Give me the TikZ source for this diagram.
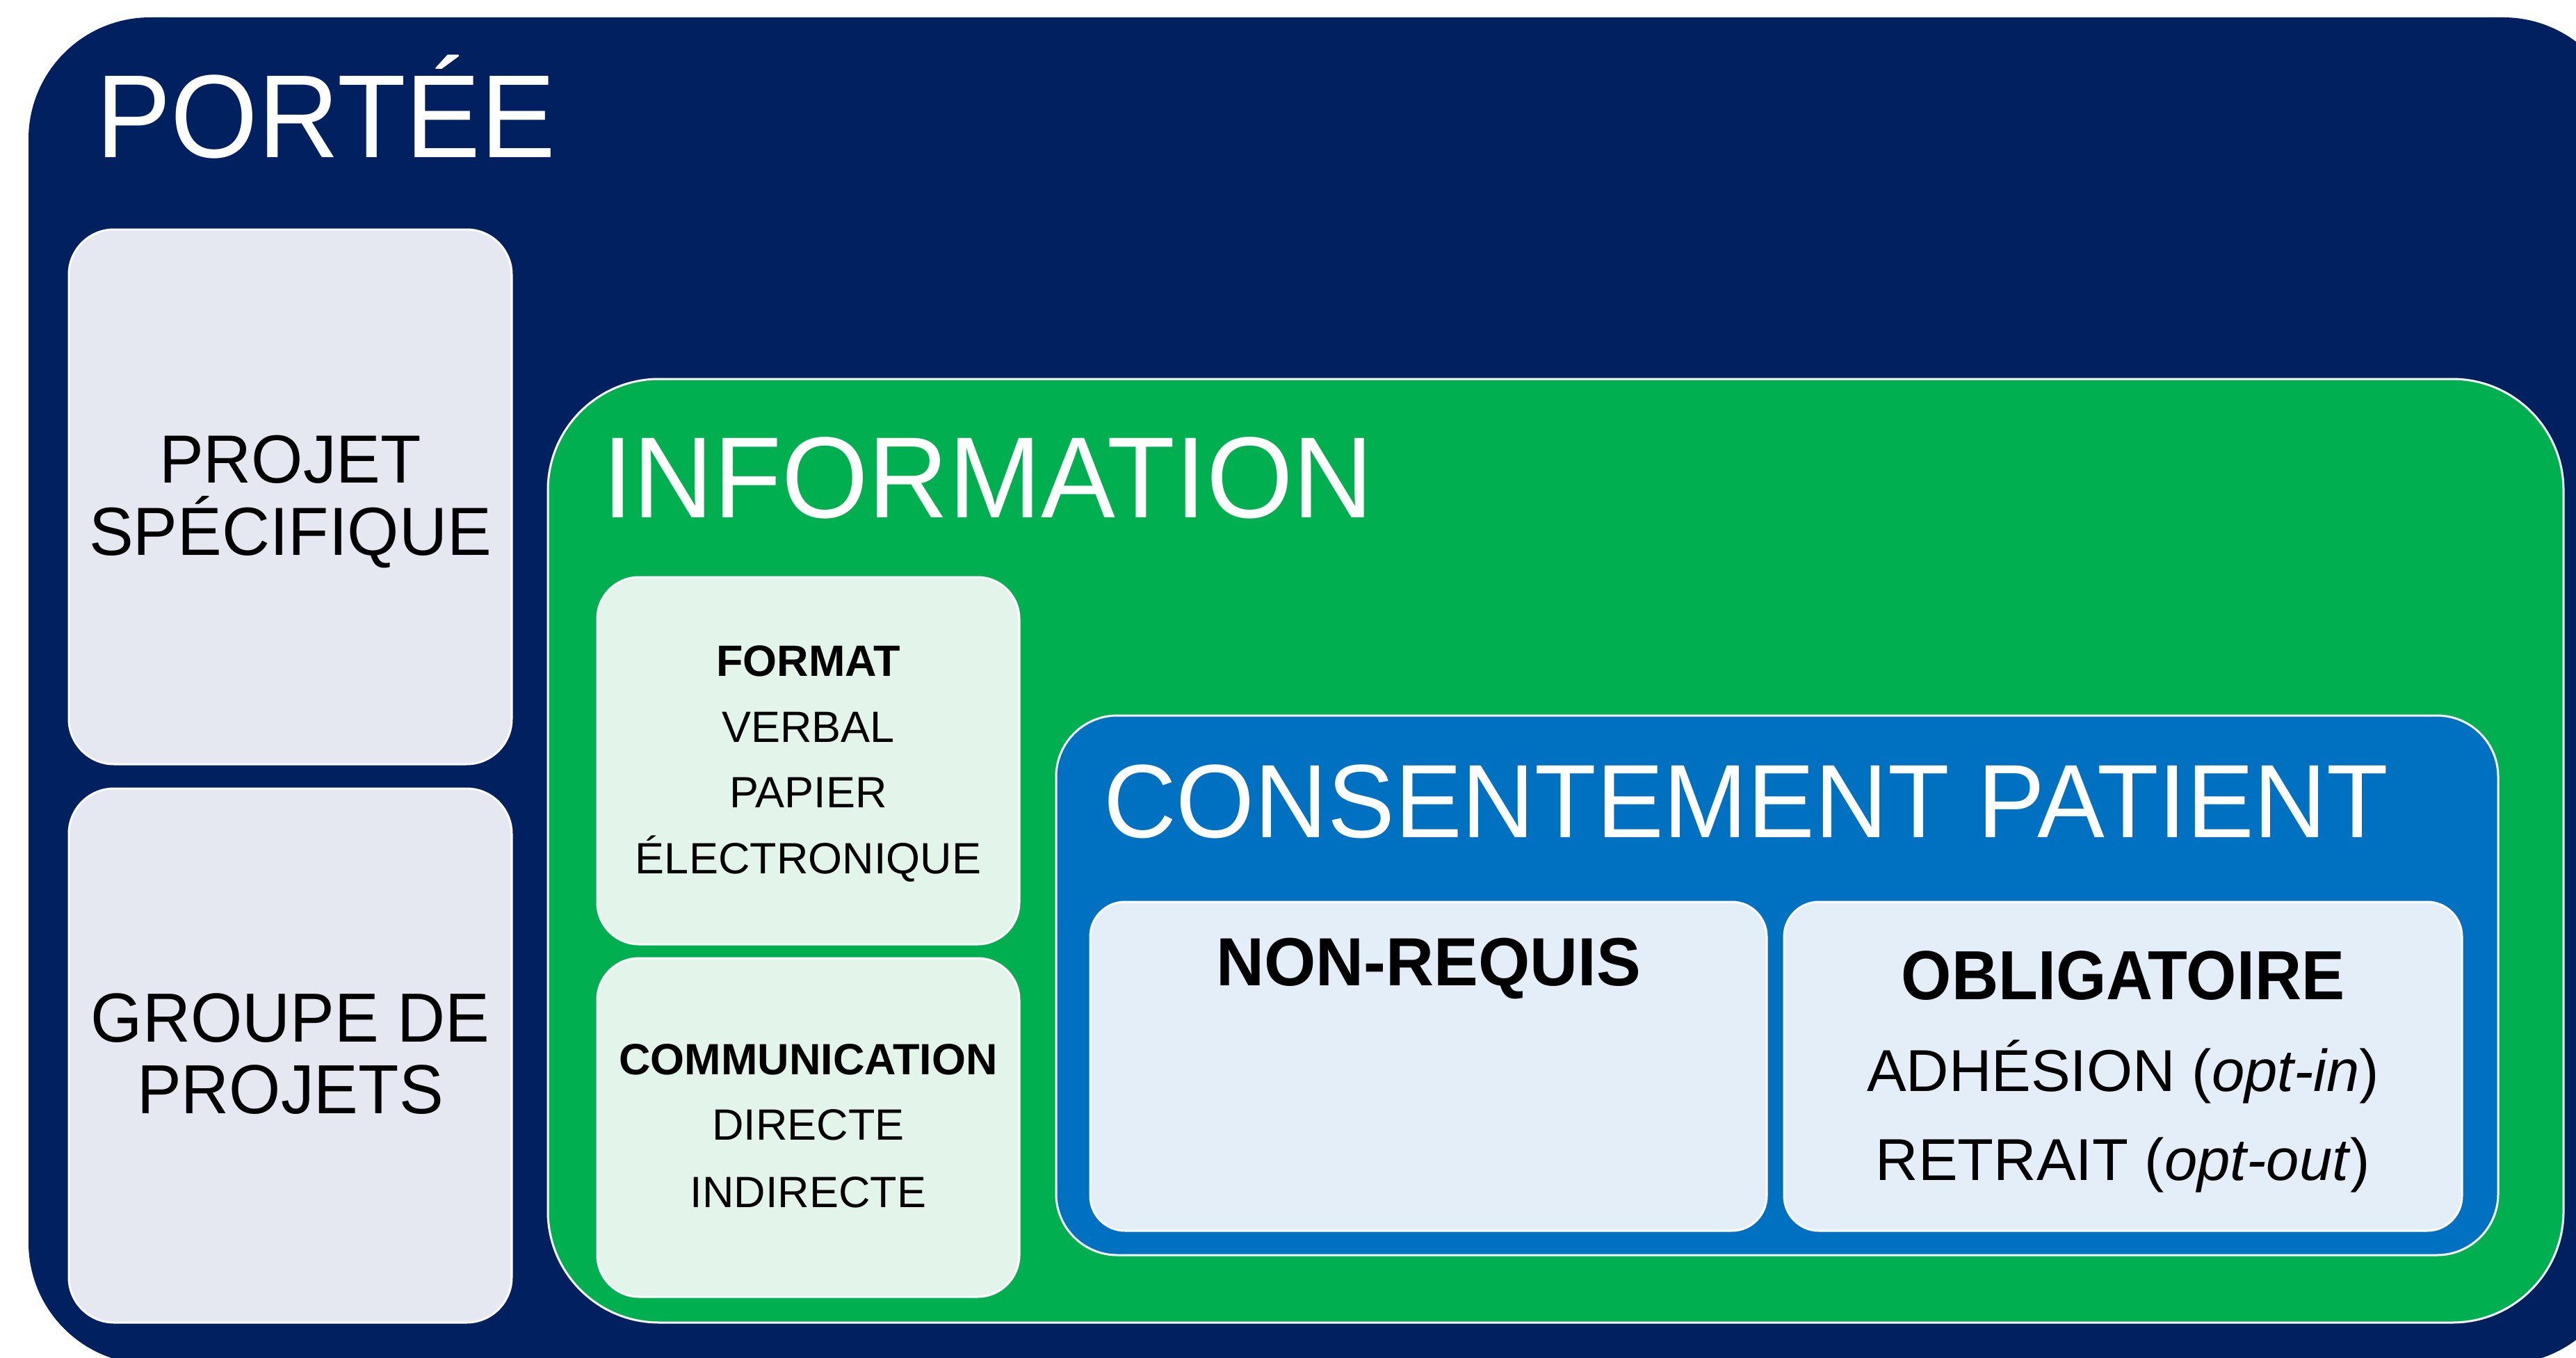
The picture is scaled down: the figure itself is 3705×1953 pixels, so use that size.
\documentclass[tikz,border=0pt]{standalone}
\usepackage{fontspec}
\setmainfont{Liberation Sans}
\definecolor{navy}{HTML}{002060}
\definecolor{grn}{HTML}{00B050}
\definecolor{blu}{HTML}{0070C0}
\definecolor{greybox}{HTML}{E5E8F0}
\definecolor{mintbox}{HTML}{E3F5EB}
\definecolor{bluebox}{HTML}{E4EEF8}
\tikzset{
  panel/.style={rectangle, inner sep=0pt, outer sep=0pt, draw=white, line width=3pt},
  txt/.style={inner sep=0pt, outer sep=0pt, anchor=base, text=black},
  title/.style={inner sep=0pt, outer sep=0pt, anchor=base west, text=white},
}
\begin{document}
\begin{tikzpicture}[x=1pt,y=-1pt]
\useasboundingbox (0,0) rectangle (3705,1953);
\fill[white] (0,0) rectangle (3705,1953);
\clip (0,0) rectangle (3705,1953);
% outer container
\node[panel, draw=none, fill=navy, rounded corners=175pt, minimum width=3734pt, minimum height=1937pt] (portee) at (1908,993.5) {};
\node[title, font=\fontsize{170}{170}\selectfont, xscale=0.95] (porteeT) at (138,227) {PORTÉE};
% left boxes
\node[panel, fill=greybox, rounded corners=65pt, minimum width=637pt, minimum height=769pt] (projet) at (417.5,714.5) {};
\node[txt, font=\fontsize{98}{98}\selectfont, xscale=0.975] (projetA) at (417.5,694.6) {PROJET};
\node[txt, font=\fontsize{98}{98}\selectfont, xscale=0.975] (projetB) at (417.5,798.6) {SPÉCIFIQUE};
\node[panel, fill=greybox, rounded corners=65pt, minimum width=637pt, minimum height=768pt] (groupe) at (417.5,1518) {};
\node[txt, font=\fontsize{100}{100}\selectfont, xscale=0.955] (groupeA) at (417.5,1498) {GROUPE DE};
\node[txt, font=\fontsize{100}{100}\selectfont, xscale=0.955] (groupeB) at (417.5,1601) {PROJETS};
% information
\node[panel, fill=grn, rounded corners=160pt, minimum width=2899pt, minimum height=1357pt] (info) at (2237.5,1223.5) {};
\node[title, font=\fontsize{166}{166}\selectfont, xscale=0.965] (infoT) at (866,744) {INFORMATION};
\node[panel, fill=mintbox, rounded corners=60pt, minimum width=607pt, minimum height=528pt] (format) at (1162.5,1094) {};
\node[txt, font=\fontsize{63}{63}\selectfont\bfseries] (formatA) at (1162.5,972) {FORMAT};
\node[txt, font=\fontsize{63}{63}\selectfont] (formatB) at (1162.5,1067) {VERBAL};
\node[txt, font=\fontsize{63}{63}\selectfont] (formatC) at (1162.5,1161) {PAPIER};
\node[txt, font=\fontsize{63}{63}\selectfont] (formatD) at (1162.5,1256) {ÉLECTRONIQUE};
\node[panel, fill=mintbox, rounded corners=60pt, minimum width=607pt, minimum height=487pt] (comm) at (1162.5,1621.5) {};
\node[txt, font=\fontsize{63}{63}\selectfont\bfseries] (commA) at (1162.5,1545) {COMMUNICATION};
\node[txt, font=\fontsize{63}{63}\selectfont] (commB) at (1162.5,1639.5) {DIRECTE};
\node[txt, font=\fontsize{63}{63}\selectfont] (commC) at (1162.5,1736) {INDIRECTE};
% consent
\node[panel, fill=blu, rounded corners=88pt, minimum width=2074pt, minimum height=776pt] (consent) at (2556,1417) {};
\node[title, font=\fontsize{150}{150}\selectfont, xscale=0.967] (consentT) at (1587,1204) {CONSENTEMENT PATIENT};
\node[panel, fill=bluebox, rounded corners=50pt, minimum width=973pt, minimum height=473pt] (nonreq) at (2054.5,1533.5) {};
\node[txt, font=\fontsize{98}{98}\selectfont\bfseries, xscale=0.975] (nonreqT) at (2054.5,1417) {NON-REQUIS};
\node[panel, fill=bluebox, rounded corners=50pt, minimum width=975pt, minimum height=473pt] (oblig) at (3053.5,1533.5) {};
\node[txt, font=\fontsize{100}{100}\selectfont\bfseries, xscale=0.93] (obligT) at (3053.5,1437) {OBLIGATOIRE};
\node[txt, font=\fontsize{85}{85}\selectfont] (obligA) at (3053.5,1569) {ADHÉSION (\textit{opt-in})};
\node[txt, font=\fontsize{85}{85}\selectfont] (obligB) at (3053.5,1697) {RETRAIT (\textit{opt-out})};
\end{tikzpicture}
\end{document}
